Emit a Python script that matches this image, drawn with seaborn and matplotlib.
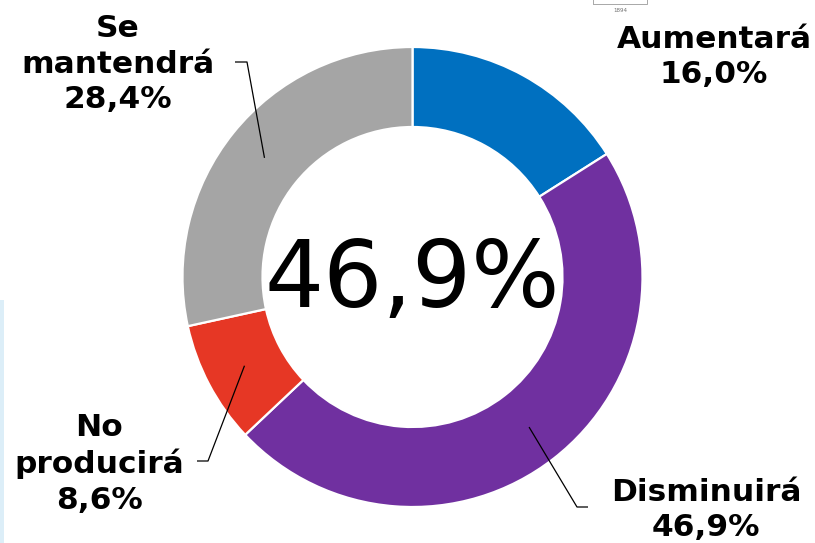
import matplotlib
matplotlib.use("Agg")
import matplotlib.pyplot as plt
import seaborn as sns
import numpy as np
from matplotlib.patches import Rectangle

sns.set_theme(style="white")
plt.rcParams['font.family'] = ['DejaVu Sans']

# ---- data ----
categories = ["Aumentará", "Disminuirá", "No producirá", "Se mantendrá"]
values = [16.0, 46.9, 8.6, 28.4]
value_labels = ["16,0%", "46,9%", "8,6%", "28,4%"]
label_text = ["Aumentará", "Disminuirá", "No\nproducirá", "Se\nmantendrá"]
center_label = "46,9%"
colors = ["#0070C0", "#7030A0", "#E63725", "#A5A5A5"]

W, H = 815, 543
CX, CY, R = 412.5, 277.0, 230.0


def px(x, y):
    """pixel position -> data coords (radius 1 == R pixels)"""
    return ((x - CX) / R, (CY - y) / R)


fig = plt.figure(figsize=(W / 100, H / 100), dpi=100)
ax = fig.add_axes([0, 0, 1, 1])
wedges, _ = ax.pie(values, colors=colors, startangle=90, counterclock=False,
                   radius=1.0,
                   wedgeprops=dict(width=80 / R, edgecolor="white", linewidth=1.6))
x0, y0 = px(0, H)
x1, y1 = px(W, 0)
ax.set_xlim(x0, x1)
ax.set_ylim(y0, y1)
ax.set_aspect("equal")
ax.axis("off")

ax.text(0, px(0, 281)[1], center_label, ha="center", va="center",
        fontsize=67, color="black")

# label positions (pixel centres) and leader-line elbows
label_pos = {
    "Aumentará": (714, 57),
    "Disminuirá": (706, 510),
    "No producirá": (99, 464),
    "Se mantendrá": (118, 64),
}
elbows = {
    "Disminuirá": [(577, 507), (588, 507)],
    "No producirá": [(208, 461), (197, 461)],
    "Se mantendrá": [(247, 62), (235, 62)],
}

mid_r = 1 - 40 / R
for w, cat, txt, vl in zip(wedges, categories, label_text, value_labels):
    lx, ly = px(*label_pos[cat])
    ax.text(lx, ly, f"{txt}\n{vl}", ha="center", va="center", fontsize=22.5,
            fontweight="bold", color="black", linespacing=1.3)
    if cat in elbows:
        ang = np.deg2rad((w.theta1 + w.theta2) / 2)
        xs = [mid_r * np.cos(ang)]
        ys = [mid_r * np.sin(ang)]
        for p in elbows[cat]:
            dx, dy = px(*p)
            xs.append(dx)
            ys.append(dy)
        ax.plot(xs, ys, color="black", linewidth=0.9, solid_capstyle="butt")

# decorative fragments from the original slide
fig.patches.append(Rectangle((0, 0), 4 / W, (H - 300) / H, transform=fig.transFigure,
                             facecolor="#DCEEF8", edgecolor="none"))
fig.patches.append(Rectangle((593 / W, 1 - 4 / H), 54 / W, 6 / H, transform=fig.transFigure,
                             facecolor="none", edgecolor="#9A9A9A", linewidth=0.6))
fig.text(620 / W, 1 - 11 / H, "1894", ha="center", va="center", fontsize=4,
         color="#707070")

fig.savefig("out.png", dpi=100)
